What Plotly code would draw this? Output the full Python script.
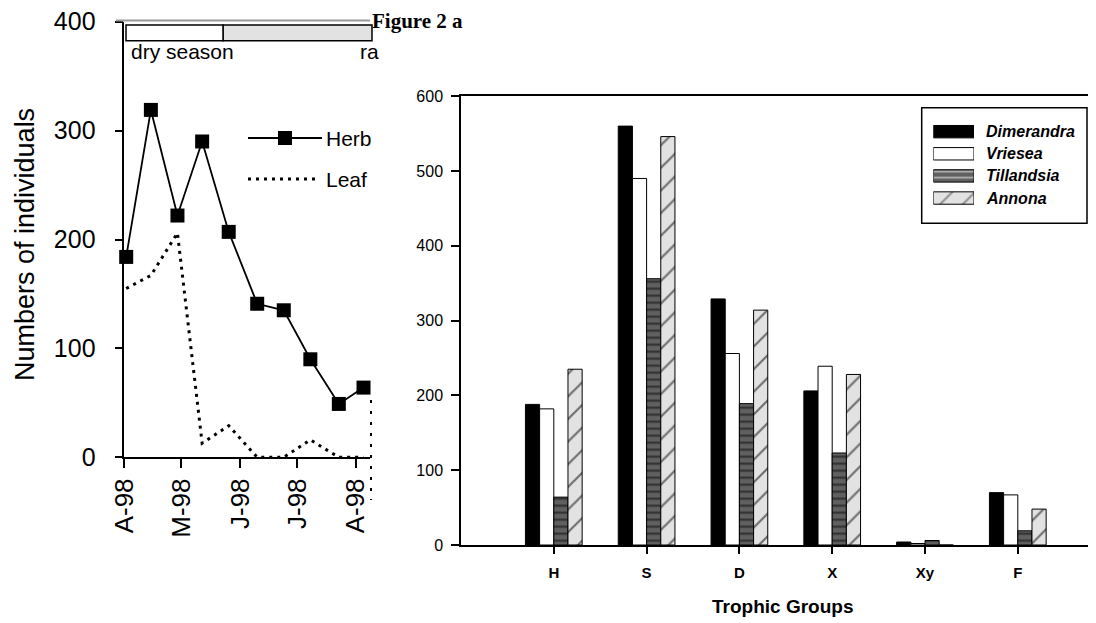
import plotly.graph_objects as go

# ---------------- data: left panel (time series) ----------------
dates = ['1998-04-02', '1998-04-15', '1998-04-29', '1998-05-12', '1998-05-26',
         '1998-06-10', '1998-06-24', '1998-07-08', '1998-07-23', '1998-08-05']
herb = [184, 319, 222, 290, 207, 141, 135, 90, 49, 64]
leaf = [155, 167, 206, 13, 29, 0, 0, 16, 0, 0]
month_ticks = ['1998-04-01', '1998-05-01', '1998-06-01', '1998-07-01', '1998-08-01']
month_labels = ['A-98', 'M-98', 'J-98', 'J-98', 'A-98']
left_yticks = [0, 100, 200, 300, 400]

# ---------------- data: right panel (trophic groups) ----------------
groups = ['H', 'S', 'D', 'X', 'Xy', 'F']
dimerandra = [188, 560, 329, 206, 4, 70]
vriesea = [182, 490, 256, 239, 2, 67]
tillandsia = [64, 356, 189, 123, 6, 19]
annona = [235, 546, 314, 228, 0, 48]
species = ['Dimerandra', 'Vriesea', 'Tillandsia', 'Annona']
bar_yticks = [0, 100, 200, 300, 400, 500, 600]

# page has an 8px body margin; figure is sized so that it fills the window
OFF = 8
W, H = 1096 - OFF, 623 - OFF
def px(x):
    return (x - OFF) / W
def py(y):
    return 1 - (y - OFF) / H

SANS = 'Liberation Sans, Arial, sans-serif'
SERIF = 'Liberation Serif, Times New Roman, serif'

styles = {
    'Dimerandra': dict(color='black', pattern=dict(shape='')),
    'Vriesea': dict(color='white', pattern=dict(shape='')),
    'Tillandsia': dict(color='#606060', pattern=dict(shape='-', bgcolor='#606060', fgcolor='black',
                                                     size=7, solidity=0.3)),
    'Annona': dict(color='#e2e2e2', pattern=dict(shape='/', bgcolor='#e2e2e2', fgcolor='black',
                                                 size=16, solidity=0.14)),
}

fig = go.Figure()

# left panel traces
fig.add_trace(go.Scatter(x=dates, y=leaf, mode='lines', xaxis='x', yaxis='y',
                         line=dict(color='black', width=3, dash='3px,5px'),
                         showlegend=False))
fig.add_trace(go.Scatter(x=dates, y=herb, mode='lines+markers', xaxis='x', yaxis='y',
                         line=dict(color='black', width=1.8), cliponaxis=False,
                         marker=dict(symbol='square', size=14, color='black'),
                         showlegend=False))

# right panel bars
for name, vals in zip(species, [dimerandra, vriesea, tillandsia, annona]):
    st = styles[name]
    fig.add_trace(go.Bar(x=groups, y=vals, name=name, xaxis='x2', yaxis='y2',
                         marker=dict(color=st['color'], pattern=st['pattern'],
                                     line=dict(color='black', width=1)),
                         showlegend=False))

# legend swatches drawn as bars on a hidden axis
fig.add_trace(go.Bar(
    y=species, x=[1, 1, 1, 1], orientation='h', xaxis='x3', yaxis='y3', width=0.56,
    marker=dict(
        color=[styles[s]['color'] for s in species],
        pattern=dict(shape=['', '', '-', '/'],
                     bgcolor=['black', 'white', '#606060', '#e2e2e2'],
                     fgcolor=['black', 'black', 'black', 'black'],
                     size=[8, 8, 6, 16], solidity=[0.3, 0.3, 0.3, 0.14]),
        line=dict(color='black', width=1)),
    showlegend=False, hoverinfo='skip'))

left_x_end = '1998-08-08 10:00'

fig.update_layout(
    width=W, height=H, margin=dict(l=0, r=0, t=0, b=0, autoexpand=False),
    paper_bgcolor='white', plot_bgcolor='white',
    barmode='group', bargap=0.389, bargroupgap=0,
    font=dict(family=SANS, color='black'),
    xaxis=dict(domain=[px(124.3), px(370)], type='date', automargin=False,
               range=['1998-04-01', left_x_end],
               tickvals=month_ticks, ticktext=month_labels, tickangle=-90,
               tickfont=dict(size=26, family=SANS), ticklabeloverflow='allow',
               showline=True, linecolor='black', linewidth=1.5,
               ticks='outside', ticklen=9, tickwidth=1.5, tickcolor='black',
               showgrid=False, zeroline=False, anchor='y'),
    yaxis=dict(domain=[py(457.3), py(21.7)], range=[0, 400], automargin=False,
               tickvals=left_yticks, tickfont=dict(size=25, family=SANS),
               ticklabeloverflow='allow',
               showline=True, linecolor='black', linewidth=1.5,
               ticks='outside', ticklen=8, tickwidth=1.5, tickcolor='black',
               ticklabelstandoff=14,
               showgrid=False, zeroline=False, anchor='x'),
    xaxis2=dict(domain=[px(461), 1], range=[-1, 5.93 - OFF / 91.6], type='category',
                automargin=False,
                tickfont=dict(size=15, family=SANS, weight='bold'),
                showline=True, linecolor='black', linewidth=1.5, mirror=True,
                ticks='outside', ticklen=7, tickwidth=1.5, tickcolor='black',
                ticklabelstandoff=6,
                showgrid=False, zeroline=False, anchor='y2'),
    yaxis2=dict(domain=[py(545), py(96.2)], range=[0, 600], automargin=False,
                tickvals=bar_yticks, tickfont=dict(size=16, family=SANS),
                ticklabeloverflow='allow',
                showline=True, linecolor='black', linewidth=1.5,
                ticks='outside', ticklen=8, tickwidth=1.5, tickcolor='black',
                ticklabelstandoff=5,
                showgrid=False, zeroline=False, anchor='x2'),
    xaxis3=dict(domain=[px(933.3), px(974)], range=[0, 1], visible=False,
                fixedrange=True, anchor='y3', automargin=False),
    yaxis3=dict(domain=[py(209.1), py(120.6)], range=[3.5, -0.5], visible=False,
                type='category', categoryorder='array', categoryarray=species,
                fixedrange=True, anchor='x3', automargin=False),
)

shapes = []
# gray top border of left panel
shapes.append(dict(type='line', xref='paper', yref='paper', x0=px(116), x1=px(370),
                   y0=py(20.5), y1=py(20.5), line=dict(color='#9a9a9a', width=2)))
# season bar
shapes.append(dict(type='rect', xref='paper', yref='paper', x0=px(223), x1=px(372),
                   y0=py(40.7), y1=py(25), fillcolor='#e2e2e2',
                   line=dict(color='black', width=1.5)))
shapes.append(dict(type='rect', xref='paper', yref='paper', x0=px(126), x1=px(223),
                   y0=py(40.7), y1=py(25), fillcolor='white',
                   line=dict(color='black', width=1.5)))
# left panel legend
shapes.append(dict(type='line', xref='paper', yref='paper', x0=px(248), x1=px(322),
                   y0=py(138), y1=py(138), line=dict(color='black', width=1.8)))
shapes.append(dict(type='rect', xref='paper', yref='paper', x0=px(278), x1=px(292),
                   y0=py(145), y1=py(131), fillcolor='black', line=dict(width=0)))
shapes.append(dict(type='line', xref='paper', yref='paper', x0=px(248), x1=px(318),
                   y0=py(179), y1=py(179), line=dict(color='black', width=3, dash='3px,5px')))
# dotted fragment at the crop edge
shapes.append(dict(type='line', xref='paper', yref='paper', x0=px(371), x1=px(371),
                   y0=py(400), y1=py(500), line=dict(color='black', width=2, dash='3px,8px')))
# legend box
shapes.append(dict(type='rect', xref='paper', yref='paper', x0=px(921.7), x1=px(1087),
                   y0=py(223.3), y1=py(107.7), fillcolor='rgba(0,0,0,0)',
                   line=dict(color='black', width=1.5)))
fig.update_layout(shapes=shapes)

ann = []
def text(x, y, s, size, family=SANS, xanchor='left', angle=0, weight='normal', style='normal'):
    ann.append(dict(xref='paper', yref='paper', x=px(x), y=py(y), text=s, showarrow=False,
                    xanchor=xanchor, yanchor='middle', textangle=angle,
                    font=dict(size=size, family=family, color='black', weight=weight, style=style)))

text(25, 245, 'Numbers of individuals', 27, xanchor='center', angle=-90)
text(129, 51, 'dry season', 21)
text(358, 51, 'ra', 21)
text(324, 138, 'Herb', 21)
text(324, 179, 'Leaf', 21)
text(370, 21, 'Figure 2 a', 21, family=SERIF, weight='bold')
text(782, 606, 'Trophic Groups', 19, xanchor='center', weight='bold')
for i, s in enumerate(species):
    text(984, 131.7 + i * 22.1, s, 16, weight='bold', style='italic')
fig.update_layout(annotations=ann)

fig.write_html('out.html')
